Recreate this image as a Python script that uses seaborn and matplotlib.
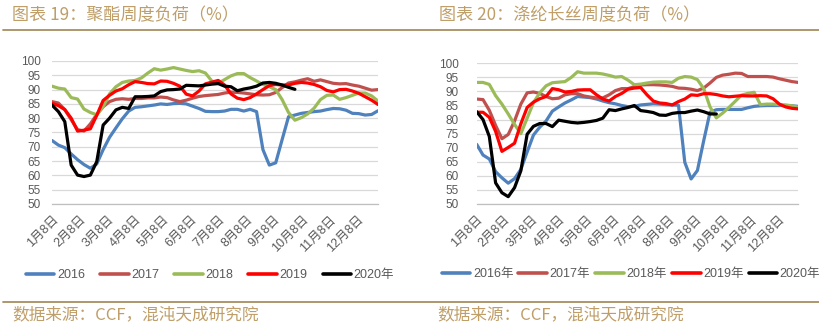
import numpy as np
import pandas as pd
import matplotlib
matplotlib.use('Agg')
import matplotlib.pyplot as plt
from matplotlib.lines import Line2D
import seaborn as sns

# ---------------- data ----------------
month_labels = ['1月8日', '2月8日', '3月8日', '4月8日', '5月8日', '6月8日',
                '7月8日', '8月8日', '9月8日', '10月8日', '11月8日', '12月8日']
years = ['2016', '2017', '2018', '2019', '2020']
left_legend = ['2016', '2017', '2018', '2019', '2020年']
right_legend = ['2016年', '2017年', '2018年', '2019年', '2020年']

# 聚酯周度负荷 (weekly)
pe_2016 = [72.2, 70.6, 69.7, 67.5, 65.5, 63.8, 62.5, 64.0, 69.0, 73.3, 76.6, 79.8, 82.5, 83.8, 84.0, 84.3, 84.6,
           85.0, 84.8, 85.1, 85.2, 85.0, 84.2, 83.4, 82.4, 82.3, 82.3, 82.5, 83.1, 83.1, 82.5, 83.1, 82.3, 69.0,
           63.6, 64.4, 72.5, 80.5, 81.1, 81.7, 82.0, 82.3, 82.5, 83.0, 83.4, 83.3, 82.8, 81.7, 81.6, 81.1, 81.3, 82.6]
pe_2017 = [85.8, 85.3, 83.0, 79.5, 76.0, 75.5, 78.0, 81.3, 84.0, 85.8, 86.6, 86.8, 86.6, 86.9, 86.9, 87.1, 87.1,
           87.4, 87.2, 86.4, 85.8, 86.3, 87.0, 87.6, 87.9, 88.1, 88.3, 88.8, 89.1, 89.0, 88.8, 88.5, 88.2, 88.1,
           88.2, 89.0, 90.7, 92.3, 92.7, 93.3, 93.8, 92.9, 93.4, 92.8, 92.2, 92.0, 92.1, 91.6, 91.2, 90.5, 89.8, 90.0]
pe_2018 = [91.2, 90.5, 90.2, 87.2, 86.7, 83.2, 82.0, 81.2, 84.0, 88.5, 91.0, 92.5, 93.0, 93.2, 94.1, 95.8, 97.3,
           96.8, 97.2, 97.7, 97.2, 96.7, 96.3, 96.6, 95.8, 93.0, 92.2, 93.5, 94.8, 95.6, 95.6, 94.2, 93.0, 91.8,
           91.0, 90.0, 86.5, 82.0, 79.3, 80.2, 81.5, 83.5, 86.5, 88.0, 88.1, 86.6, 87.2, 88.0, 88.8, 88.8, 87.8, 86.0]
pe_2019 = [85.2, 84.4, 83.0, 80.0, 75.5, 75.8, 76.3, 81.0, 86.2, 88.0, 89.5, 90.3, 91.7, 92.8, 92.5, 92.1, 92.0,
           93.0, 92.9, 92.2, 91.2, 88.4, 87.8, 89.5, 92.0, 92.6, 93.2, 91.6, 88.5, 87.0, 86.5, 87.2, 88.5, 90.0,
           91.4, 91.8, 91.6, 91.6, 92.2, 92.5, 92.3, 91.8, 91.0, 89.7, 89.2, 90.0, 90.1, 89.5, 88.7, 87.5, 86.3, 84.8]
pe_2020 = [84.6, 82.3, 78.8, 63.6, 60.1, 59.6, 60.1, 64.8, 77.6, 80.0, 82.9, 83.8, 83.4, 87.5, 87.5, 87.6, 87.8,
           89.3, 89.9, 90.0, 90.2, 91.5, 91.4, 91.3, 91.6, 91.9, 92.1, 91.2, 91.0, 89.6, 90.2, 90.6, 91.2, 92.3,
           92.5, 92.2, 91.6, 90.8, 90.1]

# 涤纶长丝周度负荷 (weekly)
fy_2016 = [71.2, 67.4, 66.0, 61.5, 59.3, 57.4, 59.0, 62.3, 68.5, 74.5, 77.3, 79.5, 83.0, 84.5, 85.9, 87.0, 88.2,
           88.0, 87.8, 87.3, 86.6, 86.0, 85.6, 85.0, 84.6, 84.7, 85.2, 85.4, 85.6, 85.5, 85.3, 85.2, 85.1, 64.8,
           58.9, 61.9, 72.5, 82.6, 83.5, 83.6, 83.6, 83.6, 83.6, 84.2, 84.7, 84.9, 85.0, 85.0, 85.0, 85.0, 84.9, 84.7]
fy_2017 = [87.3, 87.1, 83.3, 77.9, 73.2, 74.7, 79.5, 85.5, 89.5, 89.8, 89.3, 88.2, 87.4, 87.6, 88.8, 89.2, 89.2,
           88.4, 88.0, 87.7, 87.7, 88.8, 90.3, 91.0, 91.0, 91.7, 92.3, 92.4, 92.4, 92.3, 92.1, 91.8, 91.2, 91.1,
           90.8, 90.3, 91.2, 93.0, 95.0, 95.8, 96.1, 96.5, 96.4, 95.3, 95.3, 95.3, 95.3, 95.1, 94.5, 94.0, 93.5, 93.2]
fy_2018 = [93.2, 93.2, 92.5, 88.5, 85.5, 82.0, 78.3, 75.0, 80.5, 86.0, 89.5, 92.0, 93.1, 93.3, 93.5, 95.0, 97.0,
           96.5, 96.5, 96.5, 96.2, 95.7, 95.1, 95.3, 94.0, 92.4, 92.6, 93.0, 93.3, 93.4, 93.4, 93.2, 94.7, 95.3,
           95.1, 94.2, 91.0, 84.5, 80.6, 82.3, 84.3, 86.5, 88.7, 89.3, 89.7, 85.3, 85.5, 85.5, 85.3, 85.2, 84.9, 84.4]
fy_2019 = [82.6, 82.6, 80.8, 75.8, 68.7, 70.1, 71.6, 78.5, 84.3, 86.2, 87.4, 88.2, 91.0, 90.6, 89.8, 90.0, 90.5,
           90.6, 90.6, 88.8, 87.3, 86.6, 88.2, 89.3, 90.8, 91.2, 91.4, 88.8, 86.6, 85.9, 85.7, 85.2, 86.4, 87.3,
           88.8, 88.6, 89.2, 89.2, 88.9, 88.4, 88.1, 88.3, 88.5, 88.4, 88.4, 88.5, 88.4, 87.4, 85.5, 84.5, 84.0, 83.8]
fy_2020 = [82.8, 80.0, 74.0, 57.5, 54.0, 52.6, 55.8, 61.8, 74.8, 77.6, 78.6, 78.6, 77.5, 79.8, 79.4, 79.0, 78.8,
           79.0, 79.3, 79.7, 80.5, 83.5, 83.2, 83.8, 84.3, 85.0, 83.2, 82.9, 82.5, 81.6, 81.5, 82.2, 82.5, 82.5,
           83.0, 83.4, 82.8, 82.0, 82.0]

colors = ['#4F81BD', '#C0504D', '#9BBB59', '#FF0000', '#000000']

# ---------------- style ----------------
sns.set_theme(style='white')
plt.rcParams['font.family'] = ['Liberation Sans', 'Noto Sans CJK SC', 'DejaVu Sans']

TAN = '#BF9E68'
RULE = '#A68F62'
GRAY = '#595959'

fig = plt.figure(figsize=(8.19, 3.31), dpi=100)
W, H = 819.0, 331.0


def fig_rect(x0, x1, ytop, ybot):
    return [x0 / W, 1 - ybot / H, (x1 - x0) / W, (ybot - ytop) / H]


ax_l = fig.add_axes(fig_rect(52, 378, 61, 204))
ax_r = fig.add_axes(fig_rect(476.7, 798.3, 63.3, 204))

n_weeks = 52
month_pos = np.arange(12) * 365.0 / 12.0 / 7.0   # tick positions in week units


def draw(ax, series, labels, ypad, leg_center, colspace):
    frames = []
    for vals, yr in zip(series, years):
        frames.append(pd.DataFrame({'week': np.arange(len(vals)), 'load': vals, 'year': yr}))
    df = pd.concat(frames, ignore_index=True)
    for yr, col, lab in zip(years, colors, labels):
        sub = df[df['year'] == yr]
        sns.lineplot(data=sub, x='week', y='load', color=col, linewidth=2.3,
                     label=lab, ax=ax, sort=False)
    ax.set_xlim(0, n_weeks - 1)
    ax.set_ylim(50, 100)
    ax.set_yticks(np.arange(50, 101, 5))
    ax.set_xticks(month_pos)
    ax.set_xticklabels(month_labels, rotation=45, ha='right', va='top',
                       rotation_mode='anchor', fontsize=9, color=GRAY)
    for t in ax.get_yticklabels():
        t.set_fontsize(8.5)
        t.set_color(GRAY)
    ax.yaxis.grid(True, color='#D9D9D9', linewidth=0.9)
    ax.xaxis.grid(False)
    ax.set_axisbelow(True)
    for s in ['top', 'right', 'left']:
        ax.spines[s].set_visible(False)
    ax.spines['bottom'].set_color('#BFBFBF')
    ax.spines['bottom'].set_linewidth(0.9)
    ax.tick_params(axis='x', direction='out', length=4, width=0.8, color='#BFBFBF', pad=3)
    ax.tick_params(axis='y', length=0, pad=ypad)
    ax.set_xlabel('')
    ax.set_ylabel('')
    ax.set_facecolor('white')
    leg = ax.legend(loc='center', bbox_to_anchor=leg_center, bbox_transform=fig.transFigure,
                    ncol=5, frameon=False, fontsize=9, handlelength=2.3, handletextpad=0.2,
                    columnspacing=colspace, borderaxespad=0)
    for t in leg.get_texts():
        t.set_color(GRAY)
    for h in leg.get_lines():
        h.set_linewidth(2.6)


draw(ax_l, [pe_2016, pe_2017, pe_2018, pe_2019, pe_2020], left_legend, 8.0,
     (210 / W, 1 - 275 / H), 1.2)
draw(ax_r, [fy_2016, fy_2017, fy_2018, fy_2019, fy_2020], right_legend, 13.0,
     (631 / W, 1 - 274 / H), 0.4)

# titles, rules, source notes
cjk = ['Noto Sans CJK SC', 'DejaVu Sans']
fig.text(12 / W, 1 - 15 / H, '图表 19：聚酯周度负荷（%）', fontsize=12.3, color=TAN,
         va='center', ha='left', family=cjk)
fig.text(439 / W, 1 - 15 / H, '图表 20：涤纶长丝周度负荷（%）', fontsize=12.3, color=TAN,
         va='center', ha='left', family=cjk)
fig.add_artist(Line2D([3 / W, 1.0], [1 - 30 / H, 1 - 30 / H], transform=fig.transFigure,
                      color=RULE, linewidth=1.3))
fig.add_artist(Line2D([3 / W, 1.0], [1 - 301.5 / H, 1 - 301.5 / H], transform=fig.transFigure,
                      color=RULE, linewidth=1.3))
fig.text(12.5 / W, 1 - 315 / H, '数据来源：CCF，混沌天成研究院', fontsize=12, color=TAN,
         va='center', ha='left', family=cjk)
fig.text(437 / W, 1 - 315 / H, '数据来源：CCF，混沌天成研究院', fontsize=12, color=TAN,
         va='center', ha='left', family=cjk)

fig.savefig('out.png', dpi=100, facecolor='white')
